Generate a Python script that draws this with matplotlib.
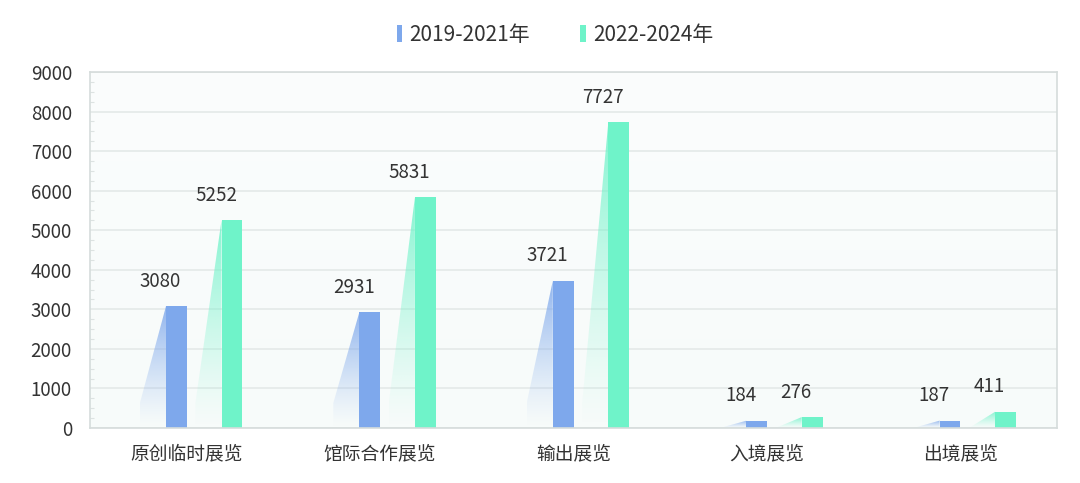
import numpy as np
import matplotlib
matplotlib.use("Agg")
import matplotlib.pyplot as plt
from matplotlib.patches import Polygon, Patch
from matplotlib.ticker import MultipleLocator
from matplotlib.colors import LinearSegmentedColormap

plt.rcParams['font.family'] = ['Noto Sans CJK SC', 'DejaVu Sans']

categories = ["原创临时展览", "馆际合作展览", "输出展览", "入境展览", "出境展览"]
series_names = ["2019-2021年", "2022-2024年"]
values_2019_2021 = [3080, 2931, 3721, 184, 187]
values_2022_2024 = [5252, 5831, 7727, 276, 411]
y_ticks = [0, 1000, 2000, 3000, 4000, 5000, 6000, 7000, 8000, 9000]

blue = "#7ea8ec"
green = "#6ff3c9"
text_color = "#333333"

fig = plt.figure(figsize=(10.8, 4.83), dpi=100)
ax = fig.add_axes([90/1080, 1 - 428/483, (1057-90)/1080, (428-72)/483])

# very light background gradient
bg = np.linspace(0, 1, 256).reshape(-1, 1)
bgcmap = LinearSegmentedColormap.from_list("bg", ["#f7fbfa", "#fbfdfd"])
ax.imshow(bg, extent=[-0.5, 4.5, 0, 9000], aspect='auto', cmap=bgcmap,
          origin='lower', zorder=0)

x = np.arange(len(categories))
bw = 0.108
off1, off2 = -0.053, 0.234
shadow_w = 0.135

def shadow(xc, h, color):
    left = xc - bw / 2
    foot = 0.07 * 9000 if h > 1500 else 0
    poly = Polygon([(left, h), (left - shadow_w, foot), (left - shadow_w, 0), (left, 0)],
                   closed=True, facecolor='none', edgecolor='none')
    ax.add_patch(poly)
    rgb = matplotlib.colors.to_rgb(color)
    n = 200
    grad = np.zeros((n, 2, 4))
    grad[..., :3] = rgb
    a = 0.85 * np.linspace(0.0, 1.0, n) ** 1.3
    grad[:, :, 3] = a[:, None]
    im = ax.imshow(grad, extent=[left - shadow_w, left, 0, h], origin='lower',
                   aspect='auto', zorder=1, interpolation='bilinear')
    im.set_clip_path(poly)

for i in range(len(categories)):
    shadow(x[i] + off1, values_2019_2021[i], blue)
    shadow(x[i] + off2, values_2022_2024[i], green)

b1 = ax.bar(x + off1, values_2019_2021, width=bw, color=blue, zorder=2)
b2 = ax.bar(x + off2, values_2022_2024, width=bw, color=green, zorder=2)

for bars, vals in ((b1, values_2019_2021), (b2, values_2022_2024)):
    for rect, v in zip(bars, vals):
        ax.annotate(str(v), (rect.get_x() + rect.get_width() / 2, v),
                    xytext=(-11.5, 18), textcoords='offset points',
                    ha='center', va='center', fontsize=13.5, color=text_color)

ax.set_xlim(-0.5, 4.5)
ax.set_ylim(0, 9000)
ax.set_yticks(y_ticks)
ax.yaxis.set_minor_locator(MultipleLocator(250))
ax.set_xticks(x)
ax.set_xticklabels(categories)
ax.tick_params(axis='y', which='major', length=0, pad=13, labelsize=13.5, labelcolor=text_color)
ax.tick_params(axis='y', which='minor', direction='in', length=3, color='#dde3e2', width=0.8)
ax.tick_params(axis='x', length=0, pad=11, labelsize=13.5, labelcolor=text_color)
ax.grid(axis='y', color='#e4e9e8', linewidth=1.2, zorder=0.5)
ax.set_axisbelow(True)
for s in ax.spines.values():
    s.set_color('#d5dcdb')
    s.set_linewidth(1.2)

handles = [Patch(facecolor=blue, edgecolor='none'), Patch(facecolor=green, edgecolor='none')]
fig.legend(handles, series_names, loc='center', bbox_to_anchor=(0.514, 0.928), ncol=2,
           frameon=False, fontsize=15, handlelength=0.25, handleheight=0.85,
           handletextpad=0.35, columnspacing=2.4, labelcolor=text_color)

fig.savefig("out.png", dpi=100, facecolor='white')
